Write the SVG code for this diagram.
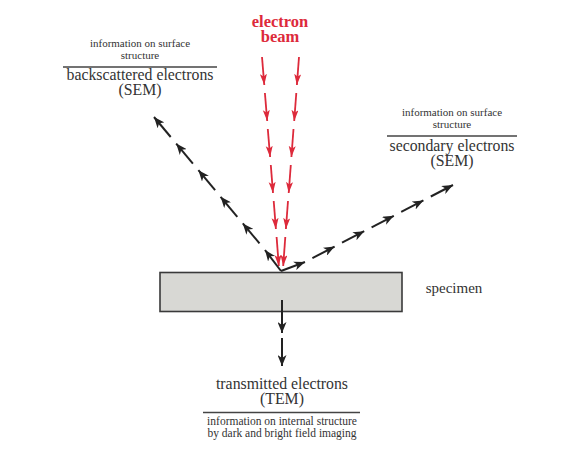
<svg xmlns="http://www.w3.org/2000/svg" width="565" height="473" viewBox="0 0 565 473">
<defs>
<style>
.lbl{font-family:"Liberation Serif","Times New Roman",serif;fill:#333;text-anchor:middle}
.main{font-size:15.8px}
.small{font-size:11px}
.red{font-family:"Liberation Serif","Times New Roman",serif;font-weight:bold;font-size:16.5px;fill:#dd2a3b;text-anchor:middle}
.rule{stroke:#444;stroke-width:1.3}
.blk{stroke:#222;stroke-width:2;fill:none}
.rd{stroke:#dd2a3b;stroke-width:1.8;fill:none}
</style>
<marker id="ab" markerUnits="userSpaceOnUse" markerWidth="12" markerHeight="9" refX="11" refY="4.5" orient="auto">
<path d="M0,0 L11,4.5 L0,9 L3,4.5 z" fill="#222"/>
</marker>
<marker id="ar" markerUnits="userSpaceOnUse" markerWidth="12" markerHeight="8" refX="11" refY="3.5" orient="auto">
<path d="M0,0 L11,3.5 L0,7 L2.5,3.5 z" fill="#dd2a3b"/>
</marker>
</defs>
<rect width="565" height="473" fill="#fff"/>

<g id="specimen">
<rect x="160" y="272.5" width="242" height="39" fill="#d8d8d4" stroke="#3a3a3a" stroke-width="1.6"/>
<text class="lbl" x="454" y="293" style="font-size:15px">specimen</text>
</g>

<g id="electron-beam">
<text class="red" x="280" y="27">electron</text>
<text class="red" x="280" y="42">beam</text>
</g>

<g id="backscattered">
<text class="lbl small" x="140" y="47">information on surface</text>
<text class="lbl small" x="140" y="59">structure</text>
<line class="rule" x1="63" y1="67" x2="217" y2="67"/>
<text class="lbl main" x="140" y="80">backscattered electrons</text>
<text class="lbl main" x="140" y="95">(SEM)</text>
</g>

<g id="secondary">
<text class="lbl small" x="452" y="116">information on surface</text>
<text class="lbl small" x="452" y="128">structure</text>
<line class="rule" x1="387" y1="136" x2="517" y2="136"/>
<text class="lbl main" x="452" y="151">secondary electrons</text>
<text class="lbl main" x="452" y="166">(SEM)</text>
</g>

<g id="transmitted">
<text class="lbl main" x="282" y="389">transmitted electrons</text>
<text class="lbl main" x="282" y="404">(TEM)</text>
<line class="rule" x1="203" y1="412.5" x2="360" y2="412.5"/>
<text class="lbl" x="282" y="425" style="font-size:11.5px">information on internal structure</text>
<text class="lbl" x="282" y="437" style="font-size:11.5px">by dark and bright field imaging</text>
</g>

<g id="connectors">
<g class="rd">
<line x1="262" y1="57" x2="264.3" y2="85" marker-end="url(#ar)"/>
<line x1="264.9" y1="93" x2="267.2" y2="121" marker-end="url(#ar)"/>
<line x1="267.8" y1="129" x2="270.1" y2="157" marker-end="url(#ar)"/>
<line x1="270.8" y1="165" x2="273" y2="193" marker-end="url(#ar)"/>
<line x1="273.7" y1="201" x2="275.9" y2="229" marker-end="url(#ar)"/>
<line x1="276.6" y1="237" x2="278.8" y2="266" marker-end="url(#ar)"/>
<line x1="299" y1="57" x2="296.9" y2="85" marker-end="url(#ar)"/>
<line x1="296.3" y1="93" x2="294.2" y2="121" marker-end="url(#ar)"/>
<line x1="293.5" y1="129" x2="291.4" y2="157" marker-end="url(#ar)"/>
<line x1="290.8" y1="165" x2="288.7" y2="193" marker-end="url(#ar)"/>
<line x1="288" y1="201" x2="285.9" y2="229" marker-end="url(#ar)"/>
<line x1="285.3" y1="237" x2="283.2" y2="266" marker-end="url(#ar)"/>
</g>
<g class="blk">
<line x1="281" y1="271" x2="265" y2="250" marker-end="url(#ab)"/>
<line x1="259.5" y1="243.4" x2="242.8" y2="223.4" marker-end="url(#ab)"/>
<line x1="237.3" y1="216.8" x2="220.6" y2="196.8" marker-end="url(#ab)"/>
<line x1="215.1" y1="190.2" x2="198.4" y2="170.2" marker-end="url(#ab)"/>
<line x1="192.9" y1="163.6" x2="176.2" y2="143.6" marker-end="url(#ab)"/>
<line x1="170.7" y1="137" x2="154" y2="117" marker-end="url(#ab)"/>

<line x1="281" y1="271" x2="305" y2="262" marker-end="url(#ab)"/>
<line x1="312.4" y1="258.1" x2="334.6" y2="246.6" marker-end="url(#ab)"/>
<line x1="342" y1="242.7" x2="364.2" y2="231.2" marker-end="url(#ab)"/>
<line x1="371.6" y1="227.3" x2="393.8" y2="215.8" marker-end="url(#ab)"/>
<line x1="401.2" y1="211.9" x2="423.4" y2="200.4" marker-end="url(#ab)"/>
<line x1="430.8" y1="196.5" x2="453" y2="185" marker-end="url(#ab)"/>

<line x1="282" y1="300" x2="282" y2="333" marker-end="url(#ab)"/>
<line x1="282" y1="338" x2="282" y2="366" marker-end="url(#ab)"/>
</g>
</g>
</svg>
